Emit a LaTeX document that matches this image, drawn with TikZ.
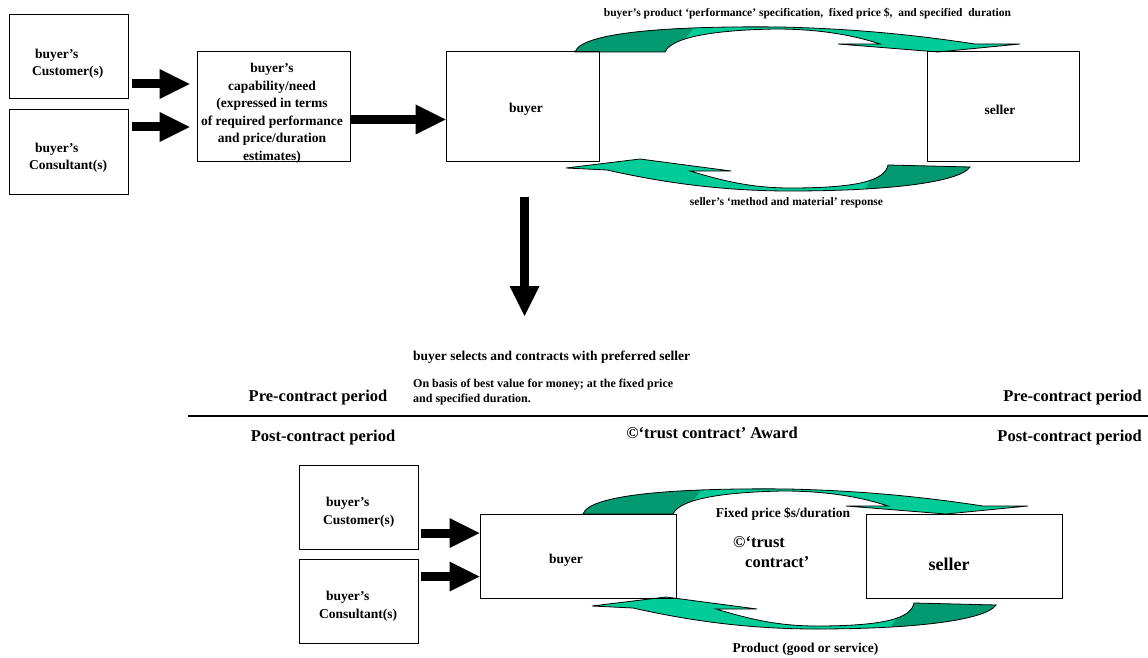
\documentclass[tikz,border=0pt]{standalone}
\usepackage{fontspec}
\setmainfont{Liberation Serif}
\usetikzlibrary{arrows.meta}
\definecolor{curllight}{RGB}{0,204,153}
\definecolor{curldark}{RGB}{0,153,112}
% outlines of the two curved ribbon arrows
\newcommand\topcurl{(575,52) .. controls (582,30) and (690,26) .. (780,27)
  .. controls (870,29) and (935,38) .. (975,44) -- (1020,44) -- (938,52) -- (838,44) -- (880,44)
  .. controls (850,34) and (815,29) .. (775,29) .. controls (720,30) and (672,36) .. (665,52) -- cycle}
\newcommand\botcurl{(690,171) -- (731,171) -- (640,159) -- (566,168) -- (607,170)
  .. controls (660,182) and (720,191) .. (790,191) .. controls (890,191) and (960,182) .. (970,167)
  -- (888,165) .. controls (885,180) and (860,188) .. (790,188) .. controls (750,188) and (720,180) .. (690,171) -- cycle}
\tikzset{
  topcurlpic/.pic={
    \fill[curllight] \topcurl;
    \begin{scope}
      \clip (560,60) -- (668,60) -- (700,20) -- (560,20) -- cycle;
      \fill[curldark] \topcurl;
    \end{scope}
    \draw[line width=.8pt] \topcurl;
  },
  botcurlpic/.pic={
    \fill[curllight] \botcurl;
    \begin{scope}
      \clip (985,150) -- (890,150) -- (858,200) -- (985,200) -- cycle;
      \fill[curldark] \botcurl;
    \end{scope}
    \draw[line width=.8pt] \botcurl;
  }
}
\begin{document}
\begin{tikzpicture}[x=1pt,y=-1pt,
  box/.style={draw,line width=1pt,inner sep=0pt},
  txt/.style={inner sep=0pt,font=\fontsize{13.5}{17.5}\selectfont\bfseries},
  lbl/.style={inner sep=0pt,font=\fontsize{11.5}{15}\selectfont\bfseries},
  period/.style={inner sep=0pt,font=\fontsize{16.5}{20}\selectfont\bfseries},
  blk/.style={line width=9pt,-{Triangle[length=30pt,width=30pt,line width=0pt]}}]
\useasboundingbox[fill=white] (0,0) rectangle (1148,658);

% pre-contract
\pic at (0,0) {topcurlpic};
\pic at (0,0) {botcurlpic};
\node[box,minimum width=119pt,minimum height=84pt] (cust) at (68.5,57) {};
\node[box,minimum width=119pt,minimum height=84pt] (cons) at (68.5,152) {};
\node[box,minimum width=153pt,minimum height=109pt] (need) at (273.5,106.5) {};
\node[box,minimum width=153pt,minimum height=109pt] (buyer) at (522.5,106.5) {};
\node[box,minimum width=152pt,minimum height=109pt] (seller) at (1003,106.5) {};
\node[txt,align=left,anchor=west] (cust-t) at (32,64) {\hspace*{3pt}buyer’s\\Customer(s)};
\node[txt,align=left,anchor=west] (cons-t) at (29,158) {\hspace*{6pt}buyer’s\\Consultant(s)};
\node[txt,align=center] (need-t) at (272,113.5) {buyer’s\\capability/need\\(expressed in terms\\of required performance\\and price/duration\\estimates)};
\node[txt] (buyer-t) at (526,109.5) {buyer};
\node[txt] (seller-t) at (1000,109.5) {seller};
\coordinate (pick) at (524.5,316);

\draw[blk] ([shift={(3,27)}]cust.east) -- ([shift={(-7,-22.5)}]need.west);
\draw[blk] ([shift={(3,-25)}]cons.east) -- ([shift={(-7,20.5)}]need.west);
\draw[blk] ([shift={(0,13)}]need.east) -- ([shift={(0,13)}]buyer.west);
\draw[blk] ([shift={(2,35)}]buyer.south) -- (pick);

\node[lbl] (spec) at (807.5,14) {buyer’s product ‘performance’ specification,\ \ fixed price \$,\ \ and specified\ \ duration};
\node[lbl] (resp) at (786.5,203) {seller’s ‘method and material’ response};
\node[txt,anchor=west] (select) at (413,357) {buyer selects and contracts with preferred seller};
\node[lbl,anchor=west,align=left,font=\fontsize{12}{15}\selectfont\bfseries] (basis) at (413,392) {On basis of best value for money; at the fixed price\\and specified duration.};

\node[period] (pre1) at (318,398) {Pre-contract period};
\node[period,anchor=east] (pre2) at (1142,398) {Pre-contract period};
\draw[line width=1.5pt] (188,416) -- (1148,416);
\node[period] (post1) at (323,438) {Post-contract period};
\node[period,anchor=east] (post2) at (1142,438) {Post-contract period};
\node[period] (award) at (712,433) {©‘trust contract’ Award};

% post-contract
\pic at (8,462) {topcurlpic};
\pic at (26,438) {botcurlpic};
\node[box,minimum width=119pt,minimum height=84pt] (cust2) at (358.5,507) {};
\node[box,minimum width=119pt,minimum height=84pt] (cons2) at (358.5,601) {};
\node[box,minimum width=196pt,minimum height=84pt] (buyer2) at (578,556) {};
\node[box,minimum width=196pt,minimum height=84pt] (seller2) at (964,556) {};
\node[txt,align=left,anchor=west] (cust2-t) at (323,512) {\hspace*{3pt}buyer’s\\Customer(s)};
\node[txt,align=left,anchor=west] (cons2-t) at (319,606) {\hspace*{7pt}buyer’s\\Consultant(s)};
\node[txt] (buyer2-t) at (566,560.5) {buyer};
\node[txt,font=\fontsize{18}{20}\selectfont\bfseries] (seller2-t) at (949,564.5) {seller};

\draw[blk] ([shift={(2,26)}]cust2.east) -- ([shift={(0,-23)}]buyer2.west);
\draw[blk] ([shift={(2,-24.5)}]cons2.east) -- ([shift={(0,20.5)}]buyer2.west);

\node[txt] (fixed) at (783,514) {Fixed price \$s/duration};
\node[period,align=left,anchor=west] (trust) at (733,552) {©‘trust\\\hspace*{12pt}contract’};
\node[txt] (product) at (805.5,649) {Product (good or service)};
\end{tikzpicture}
\end{document}
